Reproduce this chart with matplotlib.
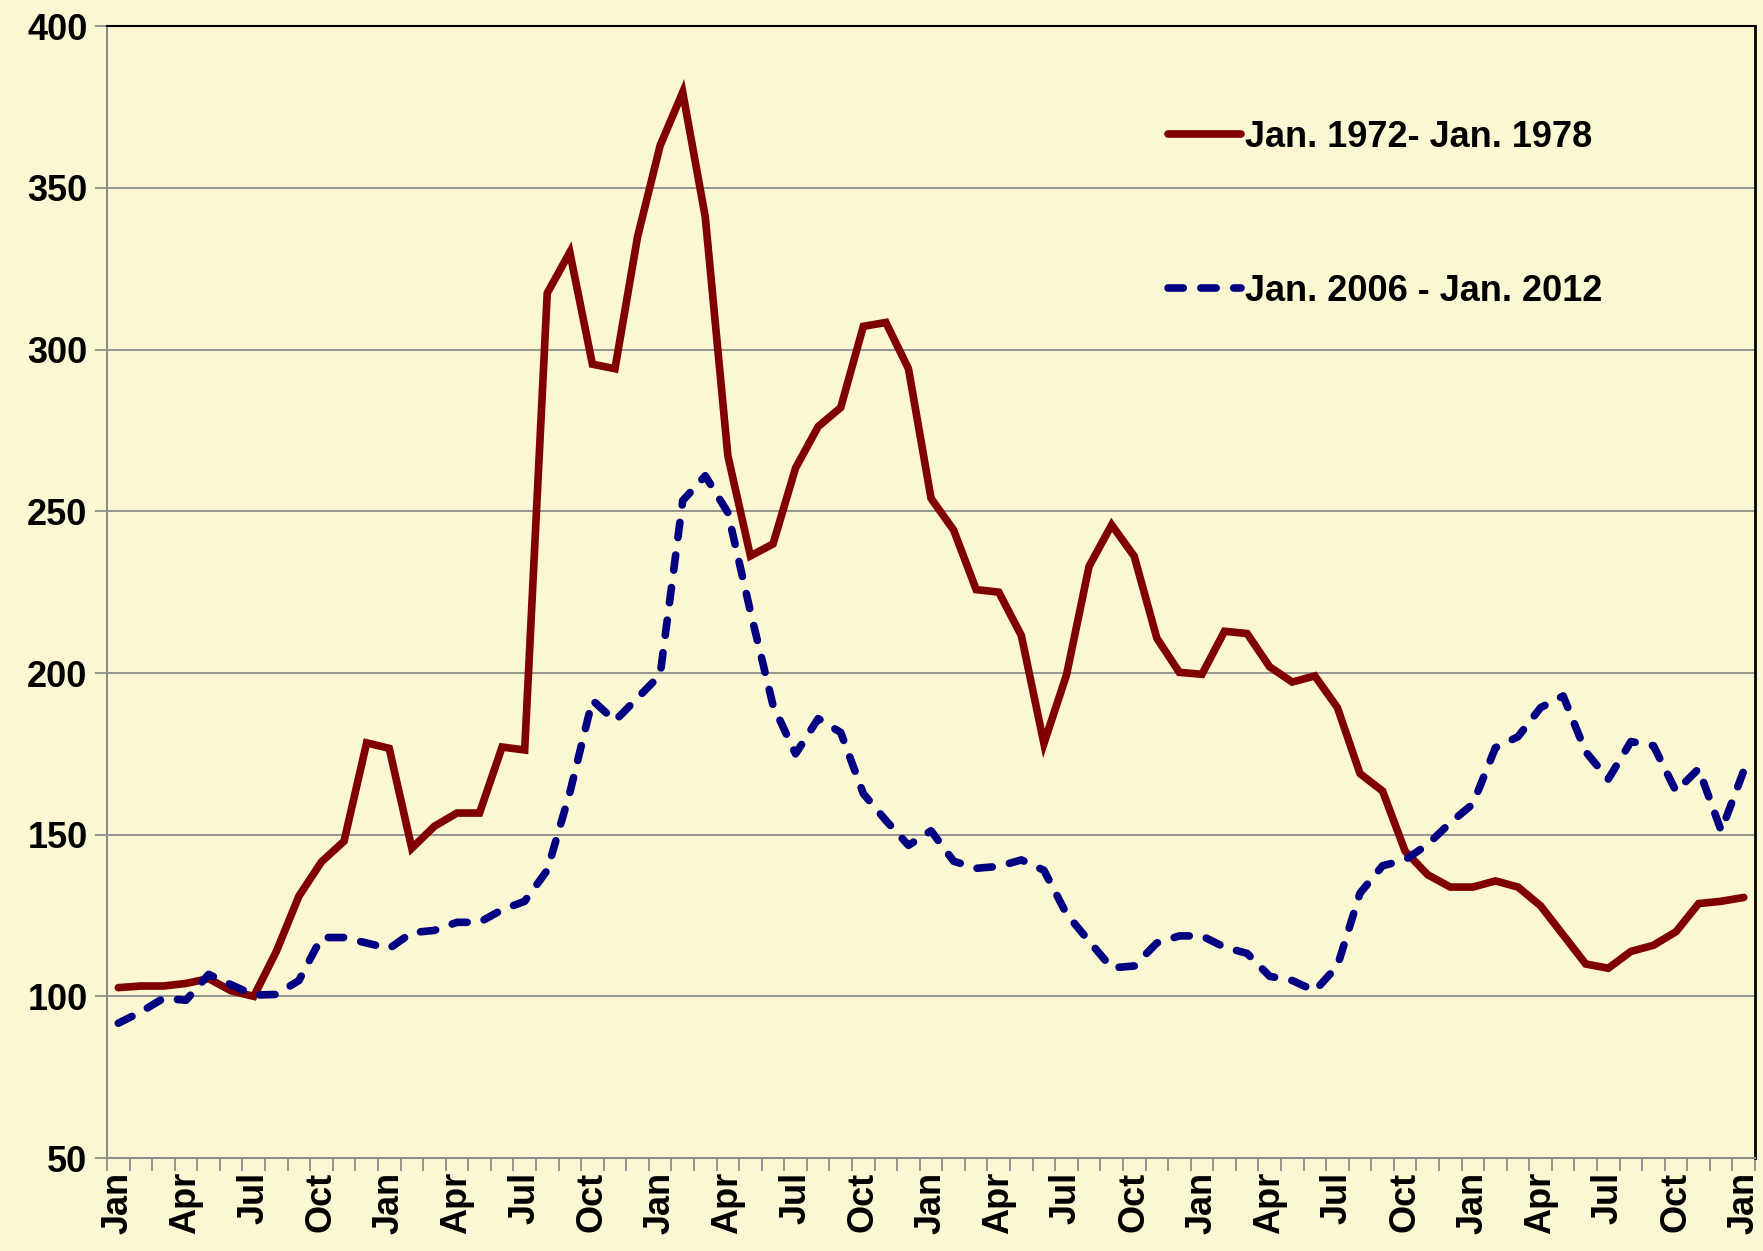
import numpy as np
import matplotlib.pyplot as plt
from matplotlib.ticker import MultipleLocator

# Monthly index values, Jan to Jan (73 months)
months = ['Jan', 'Feb', 'Mar', 'Apr', 'May', 'Jun', 'Jul', 'Aug', 'Sep', 'Oct', 'Nov', 'Dec'] * 6 + ['Jan']

serie_1972 = [102.7, 103.2, 103.2, 104.0, 105.5, 101.7, 100.0, 113.9, 131.0, 141.6, 148.0, 178.4,
              176.7, 145.8, 152.6, 156.7, 156.7, 177.1, 176.2, 317.5, 330.1, 295.5, 294.1, 334.9,
              363.1, 379.6, 341.0, 267.2, 236.2, 239.9, 263.4, 276.2, 282.1, 307.2, 308.4, 294.1,
              254.0, 244.2, 225.8, 225.0, 211.6, 178.2, 199.4, 233.0, 245.8, 236.1, 210.8, 200.2,
              199.6, 212.9, 212.2, 201.9, 197.2, 199.1, 189.3, 168.9, 163.5, 144.9, 137.6, 133.8,
              133.8, 135.7, 133.8, 128.0, 119.0, 110.0, 108.7, 113.9, 115.8, 120.0, 128.7, 129.4,
              130.6]

serie_2006 = [91.7, 95.2, 99.4, 98.8, 106.8, 103.6, 100.4, 100.6, 104.9, 118.2, 118.2, 116.5,
              114.8, 119.7, 120.4, 122.9, 122.9, 126.8, 129.4, 139.0, 163.0, 191.6, 185.2, 192.3,
              199.4, 253.3, 261.0, 249.6, 219.0, 190.0, 175.0, 185.9, 181.6, 162.7, 154.4, 146.7,
              151.2, 141.8, 139.6, 140.2, 142.2, 139.0, 125.5, 117.1, 108.8, 109.4, 116.5, 118.7,
              118.7, 115.2, 113.3, 106.2, 104.9, 101.7, 109.4, 131.9, 140.4, 142.2, 147.0, 153.7,
              159.5, 176.9, 180.3, 189.3, 192.9, 175.6, 167.2, 178.8, 177.5, 163.4, 170.4, 151.2,
              169.8]

label_1972 = 'Jan. 1972- Jan. 1978'
label_2006 = 'Jan. 2006 - Jan. 2012'

fundo = '#FCF7D3'
cinza = '#8C8C8C'

plt.rcParams['font.family'] = ['Liberation Sans', 'DejaVu Sans']
plt.rcParams['font.weight'] = 'bold'

fig = plt.figure(figsize=(17.63, 12.51), dpi=100, facecolor=fundo)
ax = fig.add_axes([0.0607, 0.0743, 0.9348, 0.9047])
ax.set_facecolor(fundo)

x = np.arange(len(months))
ax.plot(x, serie_1972, color='#800000', linewidth=5.5, solid_joinstyle='miter',
        solid_capstyle='round', label=label_1972, zorder=3)
ax.plot(x, serie_2006, color='#000080', linewidth=5.5, linestyle=(0, (2.0, 2.3)),
        dash_capstyle='round', label=label_2006, zorder=3)

ax.set_xlim(-0.5, len(months) - 0.5)
ax.set_ylim(50, 400)
ax.yaxis.set_major_locator(MultipleLocator(50))
ax.grid(axis='y', color=cinza, linewidth=1.3)
ax.set_axisbelow(True)

# rótulos a cada 3 meses, marcas entre categorias
ax.set_xticks(x[::3])
ax.set_xticklabels(months[::3], rotation=90, fontsize=26, fontweight='bold')
ax.set_xticks(np.arange(-0.5, len(months), 1), minor=True)
ax.tick_params(axis='x', which='major', length=0, pad=10)
ax.tick_params(axis='x', which='minor', length=9, width=1.3, color=cinza)
ax.tick_params(axis='y', length=9, width=1.3, color=cinza, labelsize=26, pad=5)
for lab in ax.get_yticklabels():
    lab.set_fontweight('bold')

ax.spines['left'].set_color(cinza)
ax.spines['left'].set_linewidth(1.5)
ax.spines['bottom'].set_color(cinza)
ax.spines['bottom'].set_linewidth(1.5)
ax.spines['top'].set_color('black')
ax.spines['top'].set_linewidth(1.5)
ax.spines['right'].set_color('black')
ax.spines['right'].set_linewidth(2)

leg = ax.legend(loc='center left', bbox_to_anchor=(0.644, 0.834), frameon=False,
                fontsize=26, handlelength=2.0, handletextpad=0.12, labelspacing=3.3,
                borderpad=0, borderaxespad=0)
for t in leg.get_texts():
    t.set_fontweight('bold')

plt.savefig('out.png', dpi=100, facecolor=fundo)
